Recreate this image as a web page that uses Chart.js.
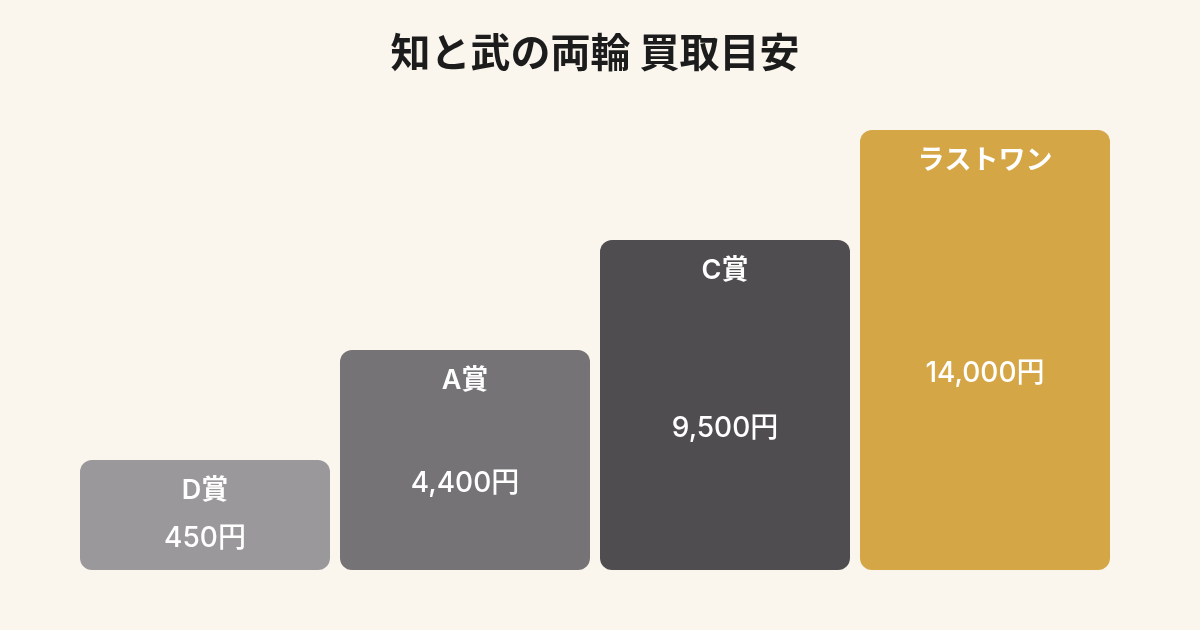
<!DOCTYPE html>
<html>
<head>
<meta charset="utf-8">
<script src="https://cdn.jsdelivr.net/npm/chart.js@4"></script>
<style>
  html, body { margin: 0; padding: 0; background: #faf6ee; }
  #wrap { width: 1200px; height: 630px; }
</style>
</head>
<body>
<div id="wrap"><canvas id="c" width="1200" height="630"></canvas></div>
<script>
const titleText = '知と武の両輪 買取目安';
const prizeNames = ['D賞', 'A賞', 'C賞', 'ラストワン'];
const prices = [450, 4400, 9500, 14000];
const tiers = [1, 2, 3, 4];
const barColors = ['#9a989b', '#757376', '#4f4d50', '#d5a646'];

const labelPlugin = {
  id: 'prizeLabels',
  afterDatasetsDraw(chart) {
    const ctx = chart.ctx;
    const meta = chart.getDatasetMeta(0);
    ctx.save();
    ctx.fillStyle = '#ffffff';
    ctx.textAlign = 'center';
    ctx.textBaseline = 'middle';
    meta.data.forEach((bar, i) => {
      const top = bar.y, base = bar.base;
      ctx.font = '600 27px Inter, "Noto Sans CJK JP", sans-serif';
      ctx.fillText(prizeNames[i], bar.x, top + 31);
      ctx.font = '500 28px Inter, "Noto Sans CJK JP", sans-serif';
      ctx.fillText(prices[i].toLocaleString('en-US') + '円', bar.x, (top + base) / 2 + 24);
    });
    ctx.restore();
  }
};

new Chart(document.getElementById('c'), {
  type: 'bar',
  data: {
    labels: prizeNames,
    datasets: [{
      data: tiers,
      backgroundColor: barColors,
      borderRadius: 12,
      borderSkipped: false,
      categoryPercentage: 1,
      barPercentage: 250 / 260
    }]
  },
  options: {
    responsive: false,
    animation: false,
    layout: { padding: { left: 75, right: 85, top: 0, bottom: 60 } },
    plugins: {
      legend: { display: false },
      tooltip: { enabled: false },
      title: {
        display: true,
        text: titleText,
        color: '#1c1c1c',
        font: { size: 40, weight: 'bold', family: '"Noto Sans CJK JP", sans-serif', lineHeight: 1.2 },
        padding: { top: 28, bottom: 54 }
      }
    },
    scales: {
      x: { display: false },
      y: { display: false, min: 0, max: 4 }
    }
  },
  plugins: [labelPlugin]
});
</script>
</body>
</html>
